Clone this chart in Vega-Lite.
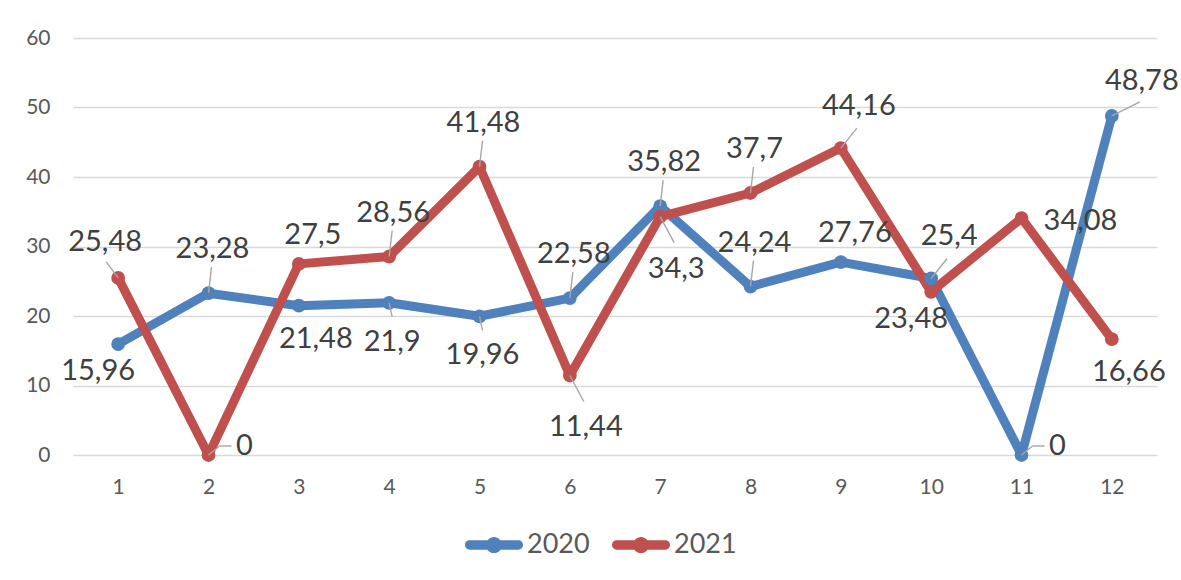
{
  "$schema": "https://vega.github.io/schema/vega-lite/v6.json",
  "autosize": "none",
  "width": 1084,
  "height": 417,
  "padding": {"left": 73, "top": 38, "right": 24, "bottom": 125},
  "background": "white",
  "config": {
    "view": {"stroke": null},
    "font": "Lato",
    "locale": {"number": {"decimal": ",", "thousands": ".", "grouping": [3], "currency": ["", " €"]}}
  },
  "data": {
    "values": [
      {"month": 1, "series": "2020", "value": 15.96, "pos": "belowLeft"},
      {"month": 2, "series": "2020", "value": 23.28, "pos": "above"},
      {"month": 3, "series": "2020", "value": 21.48, "pos": "belowRightNear"},
      {"month": 4, "series": "2020", "value": 21.9, "pos": "below"},
      {"month": 5, "series": "2020", "value": 19.96, "pos": "below"},
      {"month": 6, "series": "2020", "value": 22.58, "pos": "above"},
      {"month": 7, "series": "2020", "value": 35.82, "pos": "above"},
      {"month": 8, "series": "2020", "value": 24.24, "pos": "above"},
      {"month": 9, "series": "2020", "value": 27.76, "pos": "aboveRightNear"},
      {"month": 10, "series": "2020", "value": 25.4, "pos": "aboveRight"},
      {"month": 11, "series": "2020", "value": 0, "pos": "right"},
      {"month": 12, "series": "2020", "value": 48.78, "pos": "aboveRightFar"},
      {"month": 1, "series": "2021", "value": 25.48, "pos": "aboveLeft"},
      {"month": 2, "series": "2021", "value": 0, "pos": "right"},
      {"month": 3, "series": "2021", "value": 27.5, "pos": "aboveRightNear"},
      {"month": 4, "series": "2021", "value": 28.56, "pos": "above"},
      {"month": 5, "series": "2021", "value": 41.48, "pos": "above"},
      {"month": 6, "series": "2021", "value": 11.44, "pos": "belowRight"},
      {"month": 7, "series": "2021", "value": 34.3, "pos": "belowRight"},
      {"month": 8, "series": "2021", "value": 37.7, "pos": "above"},
      {"month": 9, "series": "2021", "value": 44.16, "pos": "aboveRight"},
      {"month": 10, "series": "2021", "value": 23.48, "pos": "belowLeft"},
      {"month": 11, "series": "2021", "value": 34.08, "pos": "rightFar"},
      {"month": 12, "series": "2021", "value": 16.66, "pos": "belowRightNear"}
    ]
  },
  "encoding": {
    "x": {
      "field": "month", "type": "ordinal",
      "scale": {"type": "point", "padding": 0.5},
      "axis": {"title": null, "labelAngle": 0, "domain": false, "ticks": false, "grid": false,
               "labelPadding": 21, "labelFontSize": 21, "labelColor": "#595959", "labelFont": "Lato"}
    },
    "y": {
      "field": "value", "type": "quantitative",
      "scale": {"domain": [0, 60], "nice": false},
      "axis": {"title": null, "values": [0, 10, 20, 30, 40, 50, 60], "domain": false, "ticks": false,
               "grid": true, "gridColor": "#d9d9d9", "gridWidth": 1.5, "labelPadding": 23,
               "labelFontSize": 21, "labelColor": "#595959", "labelFont": "Lato"}
    }
  },
  "layer": [
    {
      "mark": {"type": "line", "strokeWidth": 9, "strokeCap": "round", "strokeJoin": "round"},
      "encoding": {
        "color": {
          "field": "series", "type": "nominal",
          "scale": {"domain": ["2020", "2021"], "range": ["#4F81BD", "#C0504D"]},
          "legend": {
            "title": null, "orient": "none", "direction": "horizontal",
            "legendX": 392, "legendY": 478, "padding": 0,
            "symbolType": "M-0.84,-0.16 L0.84,-0.16 A0.16,0.16 0 0 1 0.84,0.16 L-0.84,0.16 A0.16,0.16 0 0 1 -0.84,-0.16 Z M0.28,0 A0.28,0.28 0 1 1 -0.28,0 A0.28,0.28 0 1 1 0.28,0 Z",
            "symbolSize": 3364, "symbolStrokeWidth": 0,
            "labelFontSize": 27, "labelColor": "#595959", "labelFont": "Lato",
            "labelOffset": 4, "columnPadding": 22,
            "encode": {"symbols": {"update": {"fill": {"scale": "color", "field": "value"}, "stroke": {"value": "transparent"}}}}
          }
        }
      }
    },
    {
      "mark": {"type": "point", "filled": true, "size": 190, "opacity": 1, "shape": "circle"},
      "encoding": {
        "color": {"field": "series", "type": "nominal", "legend": null}
      }
    },
    {
      "transform": [{"filter": "indexof(['above','aboveRight','aboveRightFar','aboveLeft','below','belowRight','right'], datum.pos) >= 0"}],
      "mark": {
        "type": "rule", "color": "#A6A6A6", "strokeWidth": 1.4,
        "x2Offset": {"expr": "({'above':3,'aboveRight':16,'aboveRightFar':28,'aboveLeft':-12,'below':3,'belowRight':14,'right':11})[datum.pos]"},
        "y2Offset": {"expr": "({'above':-26,'aboveRight':-20,'aboveRightFar':-14,'aboveLeft':-16,'below':14,'belowRight':26,'right':-9})[datum.pos]"}
      },
      "encoding": {
        "x2": {"field": "month"},
        "y2": {"field": "value"}
      }
    },
    {
      "transform": [{"filter": "datum.pos == 'right'"}],
      "mark": {
        "type": "rule", "color": "#A6A6A6", "strokeWidth": 1.4,
        "xOffset": 11, "yOffset": -9, "x2Offset": 23, "y2Offset": -9
      },
      "encoding": {
        "x2": {"field": "month"},
        "y2": {"field": "value"}
      }
    },
    {
      "mark": {
        "type": "text", "fontSize": 29, "color": "#404040", "font": "Lato",
        "align": "center", "baseline": "middle",
        "dx": {"expr": "({'above':4,'aboveRight':18,'aboveRightFar':30,'aboveRightNear':14,'aboveLeft':-13,'below':3,'belowRightNear':17,'belowRight':16,'belowLeft':-20,'right':36,'rightFar':59})[datum.pos]"},
        "dy": {"expr": "({'above':-44,'aboveRight':-42,'aboveRightFar':-35,'aboveRightNear':-29,'aboveLeft':-36,'below':39,'belowRightNear':33,'belowRight':52,'belowLeft':27,'right':-9,'rightFar':3})[datum.pos]"}
      },
      "encoding": {
        "text": {"field": "value", "type": "quantitative", "format": "~g"}
      }
    }
  ]
}
